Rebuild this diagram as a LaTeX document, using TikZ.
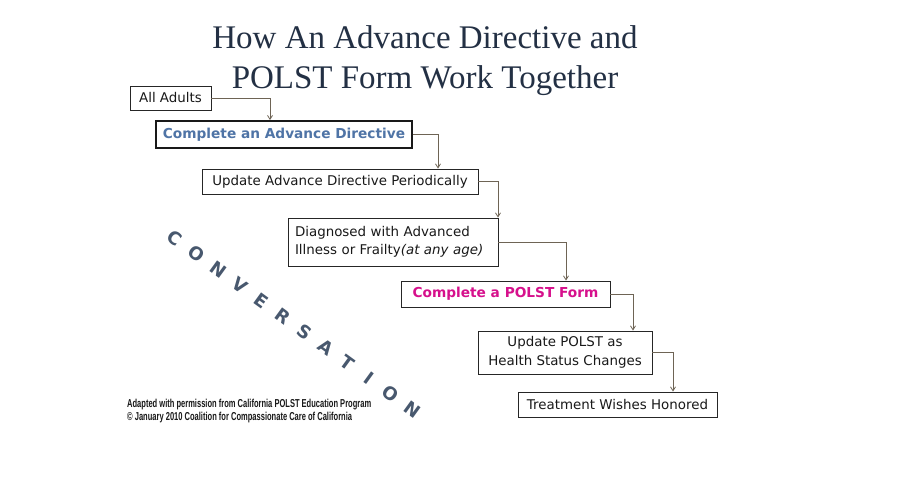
\documentclass[tikz,border=0pt]{standalone}
\usepackage{fontspec}
\setmainfont{Liberation Serif}
\newfontfamily\boxfont{DejaVu Sans}
\newfontfamily\notefont{Liberation Sans}
\usetikzlibrary{arrows.meta}
\definecolor{titlecol}{RGB}{35,48,68}
\definecolor{bluetxt}{RGB}{79,116,166}
\definecolor{magtxt}{RGB}{214,16,140}
\definecolor{convcol}{RGB}{72,88,110}
\definecolor{conncol}{RGB}{110,100,85}
\definecolor{txtcol}{RGB}{25,25,25}
\begin{document}
\begin{tikzpicture}[x=1pt,y=-1pt,
  stepbox/.style={draw=black!85, line width=0.9pt, fill=white, inner sep=0pt, align=center,
     font=\boxfont\fontsize{13.4}{18.5}\selectfont, text=txtcol},
  boldbox/.style={stepbox, font=\boxfont\bfseries\fontsize{13.7}{18}\selectfont},
  conn/.style={draw=conncol, line width=0.8pt, -{Straight Barb[length=4pt,width=5pt]}},
  convletter/.style={font=\boxfont\bfseries\fontsize{18}{18}\selectfont, text=convcol, rotate=-36, inner sep=0pt},
  notetext/.style={font=\notefont\bfseries\fontsize{11.5}{13}\selectfont, text=black!90, anchor=west, inner sep=0pt}
]
\useasboundingbox (0,0) rectangle (916,482);
\fill[white] (0,0) rectangle (916,482);

% title
\node[font=\fontsize{33}{40}\selectfont, text=titlecol, align=center] (title) at (425,61)
  {How An Advance Directive and\\POLST Form Work Together};

% boxes
\node[stepbox, minimum width=81pt, minimum height=24pt] (b1) at (170.5,98) {All Adults};
\node[boldbox, minimum width=256pt, minimum height=27pt, line width=1.8pt, draw=black!90,
  text=bluetxt] (b2) at (284,134.5) {Complete an Advance Directive};
\node[stepbox, minimum width=276pt, minimum height=25pt] (b3) at (340,181.5) {Update Advance Directive Periodically};
\node[stepbox, minimum width=210pt, minimum height=48pt, align=left, text width=196pt] (b4) at (393,242)
  {Diagnosed with Advanced\\Illness or Frailty\textit{(at any age)}};
\node[boldbox, minimum width=209pt, minimum height=26pt, text=magtxt] (b5) at (505.5,294) {Complete a POLST Form};
\node[stepbox, minimum width=174pt, minimum height=43pt] (b6) at (565,352.5) {Update POLST as\\Health Status Changes};
\node[stepbox, minimum width=199pt, minimum height=25pt] (b7) at (617.5,404.5) {Treatment Wishes Honored};

% connectors
\coordinate (k1) at (270,0);
\coordinate (k2) at (438,0);
\coordinate (k3) at (498,0);
\coordinate (k4) at (566,0);
\coordinate (k5) at (633,0);
\coordinate (k6) at (673,0);
\draw[conn] (b1.east) -| (k1 |- b2.north);
\draw[conn] (b2.east) -| (k2 |- b3.north);
\draw[conn] (b3.east) -| (k3 |- b4.north);
\draw[conn] (b4.east) -| (k4 |- b5.north);
\draw[conn] (b5.east) -| (k5 |- b6.north);
\draw[conn] (b6.east) -| (k6 |- b7.north);

% CONVERSATION
\foreach \l [count=\i from 0] in {C,O,N,V,E,R,S,A,T,I,O,N} {
  \node[convletter] (cv\i) at ({175+21.6*\i},{238+15.6*\i}) {\l};
}

% note
\node[notetext] (n1) at (127,405) {\scalebox{0.655}[1]{Adapted with permission from California POLST Education Program}};
\node[notetext] (n2) at (127,418) {\scalebox{0.655}[1]{\textcopyright{} January 2010 Coalition for Compassionate Care of California}};
\end{tikzpicture}
\end{document}
